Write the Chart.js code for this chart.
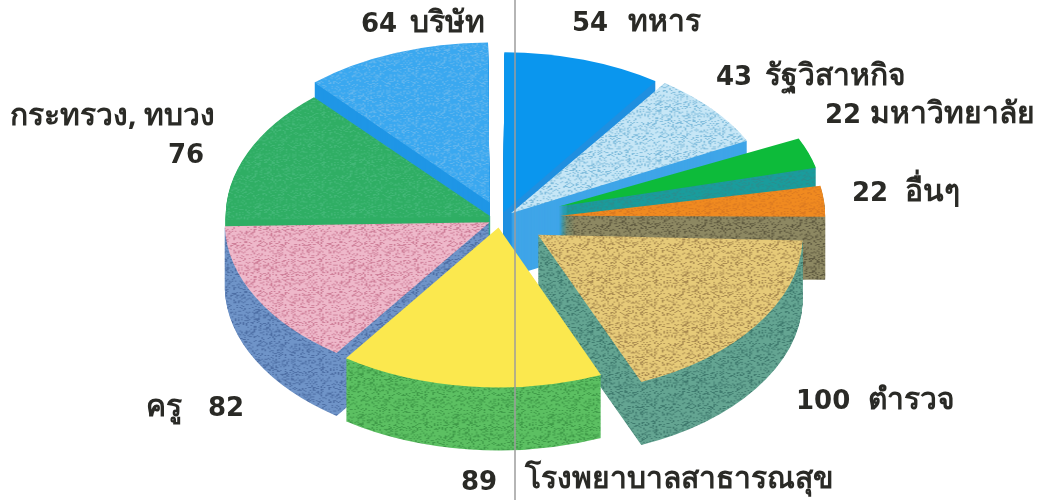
<!DOCTYPE html>
<html lang="th"><head><meta charset="utf-8">
<style>html,body{margin:0;padding:0;background:#fff}#w{width:1049px;height:500px;position:relative}</style>
<script src="https://cdn.jsdelivr.net/npm/chart.js@4"></script></head>
<body><div id="w"><canvas id="c" width="1049" height="500"></canvas></div>
<script>
const categories = ['ทหาร','รัฐวิสาหกิจ','มหาวิทยาลัย','อื่นๆ','ตำรวจ','โรงพยาบาลสาธารณสุข','ครู','กระทรวง, ทบวง','บริษัท'];
const values = [54,43,22,22,100,89,82,76,64];
const explode = [30,37,160,155,118,36,30,26,75];
const topColors = ['#0a96ee','#c6e6f6','#0dbb3a','#f08a20','#e6ca78','#fbe84e','#eeb8ca','#2fae64','#3aa8f0'];
const speckColors = [null,'#7fbcdc',null,'#dc7a20','#a98a50',null,'#cf7f99','#43b878','#63b6ee'];
const wallColors = ['#1f8fe0','#3fa5e8','#1a9c9c','#8d8862','#64a592','#5cc062','#6f94c8','#2fae64','#1f96e6'];
const wallSpeck = [null,null,'#2a8f8f','#5f5a40','#3f7a6e','#3f9a48','#4d6ea4',null,null];
const numberSpots = [[572,31],[716,85],[825,123],[852,201],[796,409],[461,490],[208,416],[168,163],[361,32]];
const nameSpots = [[628,31],[765,85],[870,123],[905,201],[868,409],[525,488],[146,416],[10,125],[410,32]];

function speck(base, dot){
  if(!dot) return base;
  const w=61,h=53,t=document.createElement('canvas');t.width=w;t.height=h;
  const g=t.getContext('2d');g.fillStyle=base;g.fillRect(0,0,w,h);
  g.fillStyle=dot;
  for(let i=0;i<w;i++)for(let j=0;j<h;j++){
    let s=Math.imul(i*97+j*389+11,2654435761);
    s^=s>>>13;s=Math.imul(s,1597334677);s^=s>>>16;
    if(((s>>>0)%4)===0)g.fillRect(i,j,1,1);
  }
  return g.createPattern(t,'repeat');
}
const geom={cx:500,cy:219,rx:265,ry:160,depth:63};
const pie3d={
  id:'pie3d',
  afterDatasetsUpdate(chart){
    // the arc element widens an offset slice; pull the radius back so an offset only moves it
    const meta=chart.getDatasetMeta(0), R=meta.controller.outerRadius;
    meta.data.forEach((a,i)=>{
      const s=explode[i]/4, fix=1-Math.sin(Math.min(Math.PI,a.circumference));
      a.outerRadius=R-s*fix;
    });
    chart.$R=R;
  },
  beforeDatasetsDraw(chart){
    const ctx=chart.ctx, arcs=chart.getDatasetMeta(0).data, a0=arcs[0];
    const k=geom.rx/chart.$R, m=geom.ry/chart.$R;
    const place=(dy)=>{ctx.translate(geom.cx,geom.cy+dy);ctx.scale(k,m);ctx.translate(-a0.x,-a0.y);};
    const order=arcs.map((a,i)=>({a,i,y:Math.sin((a.startAngle+a.endAngle)/2)})).sort((p,q)=>p.y-q.y);
    order.forEach(({a,i})=>{
      const saved=a.options, fill=speck(wallColors[i],wallSpeck[i]);
      a.options=Object.assign({},saved,{backgroundColor:fill,borderWidth:0});
      for(let d=geom.depth;d>=1;d-=1){
        if(fill.setTransform) fill.setTransform(new DOMMatrix([1,0,0,1,0,-d/m]));
        ctx.save();place(d);a.draw(ctx);ctx.restore();
      }
      a.options=saved;
    });
    ctx.save();place(0);
  },
  afterDatasetsDraw(chart){
    const ctx=chart.ctx;ctx.restore();
    ctx.save();
    ctx.strokeStyle='#9c9c9c';ctx.lineWidth=1.5;
    ctx.beginPath();ctx.moveTo(515,0);ctx.lineTo(515,500);ctx.stroke();
    ctx.fillStyle='#2a2a26';ctx.textBaseline='alphabetic';ctx.textAlign='left';
    values.forEach((v,i)=>{
      ctx.font='bold 26px "DejaVu Sans",sans-serif';
      ctx.fillText(String(v),numberSpots[i][0],numberSpots[i][1]);
      ctx.font='700 30px "Noto Sans",sans-serif';
      ctx.fillText(categories[i],nameSpots[i][0],nameSpots[i][1]);
    });
    ctx.restore();
  }
};
new Chart(document.getElementById('c'),{
  type:'pie',
  data:{labels:categories,datasets:[{data:values,clip:false,
    backgroundColor:topColors.map((c,i)=>speck(c,speckColors[i])),
    borderWidth:0,offset:explode}]},
  options:{responsive:false,animation:false,rotation:0,
    layout:{padding:0},
    plugins:{legend:{display:false},tooltip:{enabled:false},title:{display:false}}},
  plugins:[pie3d]
});
</script></body></html>
